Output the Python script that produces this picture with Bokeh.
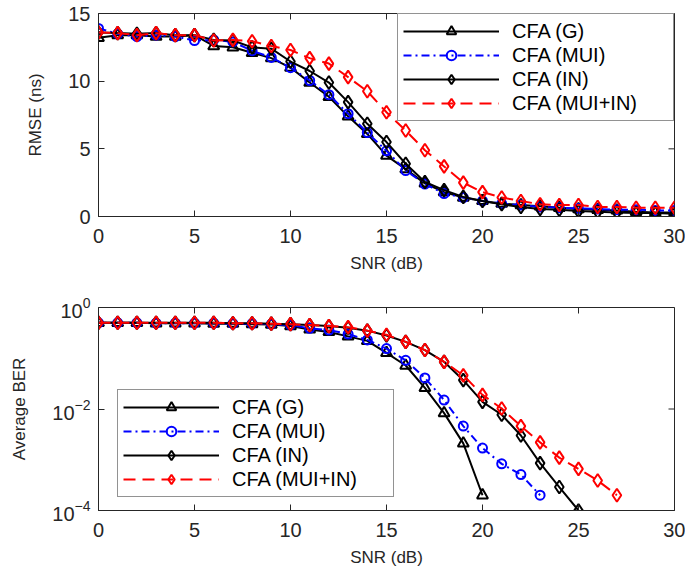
import math
from bokeh.plotting import figure
from bokeh.layouts import column
from bokeh.models import Legend, LegendItem, FixedTicker, Range1d
from bokeh.embed import file_html
from bokeh.resources import INLINE

snr = list(range(31))
x_ticks = [0, 5, 10, 15, 20, 25, 30]
rmse_ticks = [0, 5, 10, 15]
ber_ticks = [1e-4, 1e-2, 1]

rmse_g = [13.2, 13.4, 13.4, 13.3, 13.3, 13.4, 12.6, 12.5, 12.1, 11.7, 11.0, 9.9, 8.85, 7.4, 6.1,
          4.5, 3.5, 2.45, 1.8, 1.4, 1.15, 0.95, 0.85, 0.75, 0.65, 0.55, 0.5, 0.45, 0.35, 0.3, 0.3]
rmse_mui = [13.9, 13.5, 13.3, 13.4, 13.3, 13.0, 13.05, 12.9, 12.25, 11.75, 11.0, 10.05, 9.0, 7.6, 6.2,
            4.85, 3.4, 2.4, 1.7, 1.4, 1.15, 0.95, 0.85, 0.7, 0.65, 0.6, 0.55, 0.5, 0.5, 0.45, 0.45]
rmse_in = [13.6, 13.55, 13.5, 13.55, 13.4, 13.4, 13.05, 13.0, 12.5, 12.4, 11.45, 10.75, 9.9, 8.45, 6.85,
           5.5, 3.9, 2.55, 1.95, 1.45, 1.15, 0.9, 0.7, 0.55, 0.5, 0.4, 0.35, 0.3, 0.25, 0.25, 0.2]
rmse_muiin = [13.6, 13.55, 13.4, 13.55, 13.4, 13.4, 13.0, 13.05, 12.95, 12.6, 12.3, 11.7, 11.3, 10.3, 9.25,
              7.7, 6.35, 4.9, 3.7, 2.5, 1.8, 1.4, 1.15, 0.9, 0.85, 0.85, 0.7, 0.7, 0.65, 0.65, 0.65]

ber_g = [0.5, 0.5, 0.5, 0.49, 0.49, 0.49, 0.48, 0.48, 0.47, 0.46, 0.43, 0.37, 0.33, 0.27, 0.22,
         0.128, 0.072, 0.026, 0.0083, 0.0021, 0.0002]
ber_mui = [0.5, 0.5, 0.5, 0.49, 0.49, 0.49, 0.49, 0.48, 0.48, 0.47, 0.45, 0.39, 0.36, 0.30, 0.23,
           0.155, 0.091, 0.041, 0.015, 0.0046, 0.0017, 0.00083, 0.00051, 0.0002]
ber_in = [0.5, 0.5, 0.5, 0.5, 0.5, 0.5, 0.5, 0.49, 0.49, 0.48, 0.47, 0.45, 0.43, 0.40, 0.35,
          0.28, 0.21, 0.145, 0.085, 0.037, 0.0138, 0.0077, 0.003, 0.00086, 0.00029, 0.0001]
ber_muiin = [0.5, 0.5, 0.5, 0.5, 0.5, 0.5, 0.5, 0.49, 0.49, 0.48, 0.47, 0.45, 0.43, 0.41, 0.35,
             0.29, 0.21, 0.145, 0.085, 0.046, 0.019, 0.0102, 0.0046, 0.0022, 0.0011, 0.00066,
             0.00039, 0.0002]

labels = ["CFA (G)", "CFA (MUI)", "CFA (IN)", "CFA (MUI+IN)"]
colors = ["black", "#0000FF", "black", "#FF0000"]
dashes = ["solid", "8 4 2 4", "solid", "12 7"]
markers = ["triangle", "circle", "diamond", "diamond"]
msizes = [11, 9, 13, 13]

FONT = "Liberation Sans"
AX = "#262626"


def style(p, yticks, x_end, y_end):
    p.outline_line_color = AX
    p.outline_line_width = 1
    p.xgrid.visible = False
    p.ygrid.visible = False
    for ax in p.axis:
        ax.axis_line_color = AX
        ax.major_tick_line_color = AX
        ax.major_tick_in = 6
        ax.major_tick_out = 0
        ax.minor_tick_line_color = None
        ax.major_label_text_font = FONT
        ax.major_label_text_font_size = "20px"
        ax.major_label_text_color = AX
        ax.axis_label_text_font = FONT
        ax.axis_label_text_font_size = "17px"
        ax.axis_label_text_font_style = "normal"
        ax.axis_label_text_color = AX
    p.xaxis.major_label_standoff = 12
    p.xaxis.axis_label_standoff = 8
    p.yaxis.major_label_standoff = 8
    p.yaxis.axis_label_standoff = 20
    p.xaxis.ticker = FixedTicker(ticks=x_ticks)
    p.yaxis.ticker = FixedTicker(ticks=yticks)
    # box ticks on the top and right edges
    p.ray(x=x_ticks, y=[y_end] * len(x_ticks), length=6, length_units="screen",
          angle=-math.pi / 2, line_color=AX, line_width=1)
    p.ray(x=[x_end] * len(yticks), y=yticks, length=6, length_units="screen",
          angle=math.pi, line_color=AX, line_width=1)


def add_series(p, ys_list):
    items = []
    for i, ys in enumerate(ys_list):
        xs = snr[:len(ys)]
        ln = p.line(xs, ys, line_color=colors[i], line_width=2, line_dash=dashes[i])
        sc = p.scatter(xs, ys, marker=markers[i], size=msizes[i], line_color=colors[i],
                       line_width=2, fill_color=None)
        items.append(LegendItem(label=labels[i], renderers=[ln, sc]))
    return items


def make_legend(items, location):
    lg = Legend(items=items, location=location)
    lg.label_text_font = FONT
    lg.label_text_font_size = "20px"
    lg.label_text_color = "black"
    lg.glyph_width = 96
    lg.glyph_height = 24
    lg.label_height = 23
    lg.label_width = 156
    lg.label_standoff = 13
    lg.spacing = 0
    lg.padding = 5
    lg.margin = 0
    lg.border_line_color = AX
    lg.border_line_width = 1
    lg.background_fill_alpha = 1
    return lg


p1 = figure(width=685, height=285, x_range=Range1d(0, 30), y_range=Range1d(0, 15),
            output_backend="svg", toolbar_location=None,
            min_border_left=98, min_border_right=11, min_border_top=13, min_border_bottom=69)
p1.xaxis.axis_label = "SNR (dB)"
p1.yaxis.axis_label = "RMSE (ns)"
items1 = add_series(p1, [rmse_g, rmse_mui, rmse_in, rmse_muiin])
style(p1, rmse_ticks, 30, 15)
p1.add_layout(make_legend(items1, "top_right"), "center")

p2 = figure(width=685, height=286, x_range=Range1d(0, 30), y_range=Range1d(1e-4, 1),
            y_axis_type="log", output_backend="svg", toolbar_location=None,
            min_border_left=98, min_border_right=11, min_border_top=22, min_border_bottom=61)
p2.xaxis.axis_label = "SNR (dB)"
p2.yaxis.axis_label = "Average BER"
items2 = add_series(p2, [ber_g, ber_mui, ber_in, ber_muiin])
style(p2, ber_ticks, 30, 1)
p2.add_layout(make_legend(items2, (19, 13)), "center")

layout = column(p1, p2, spacing=0)
open("out.html", "w").write(file_html(layout, INLINE))
